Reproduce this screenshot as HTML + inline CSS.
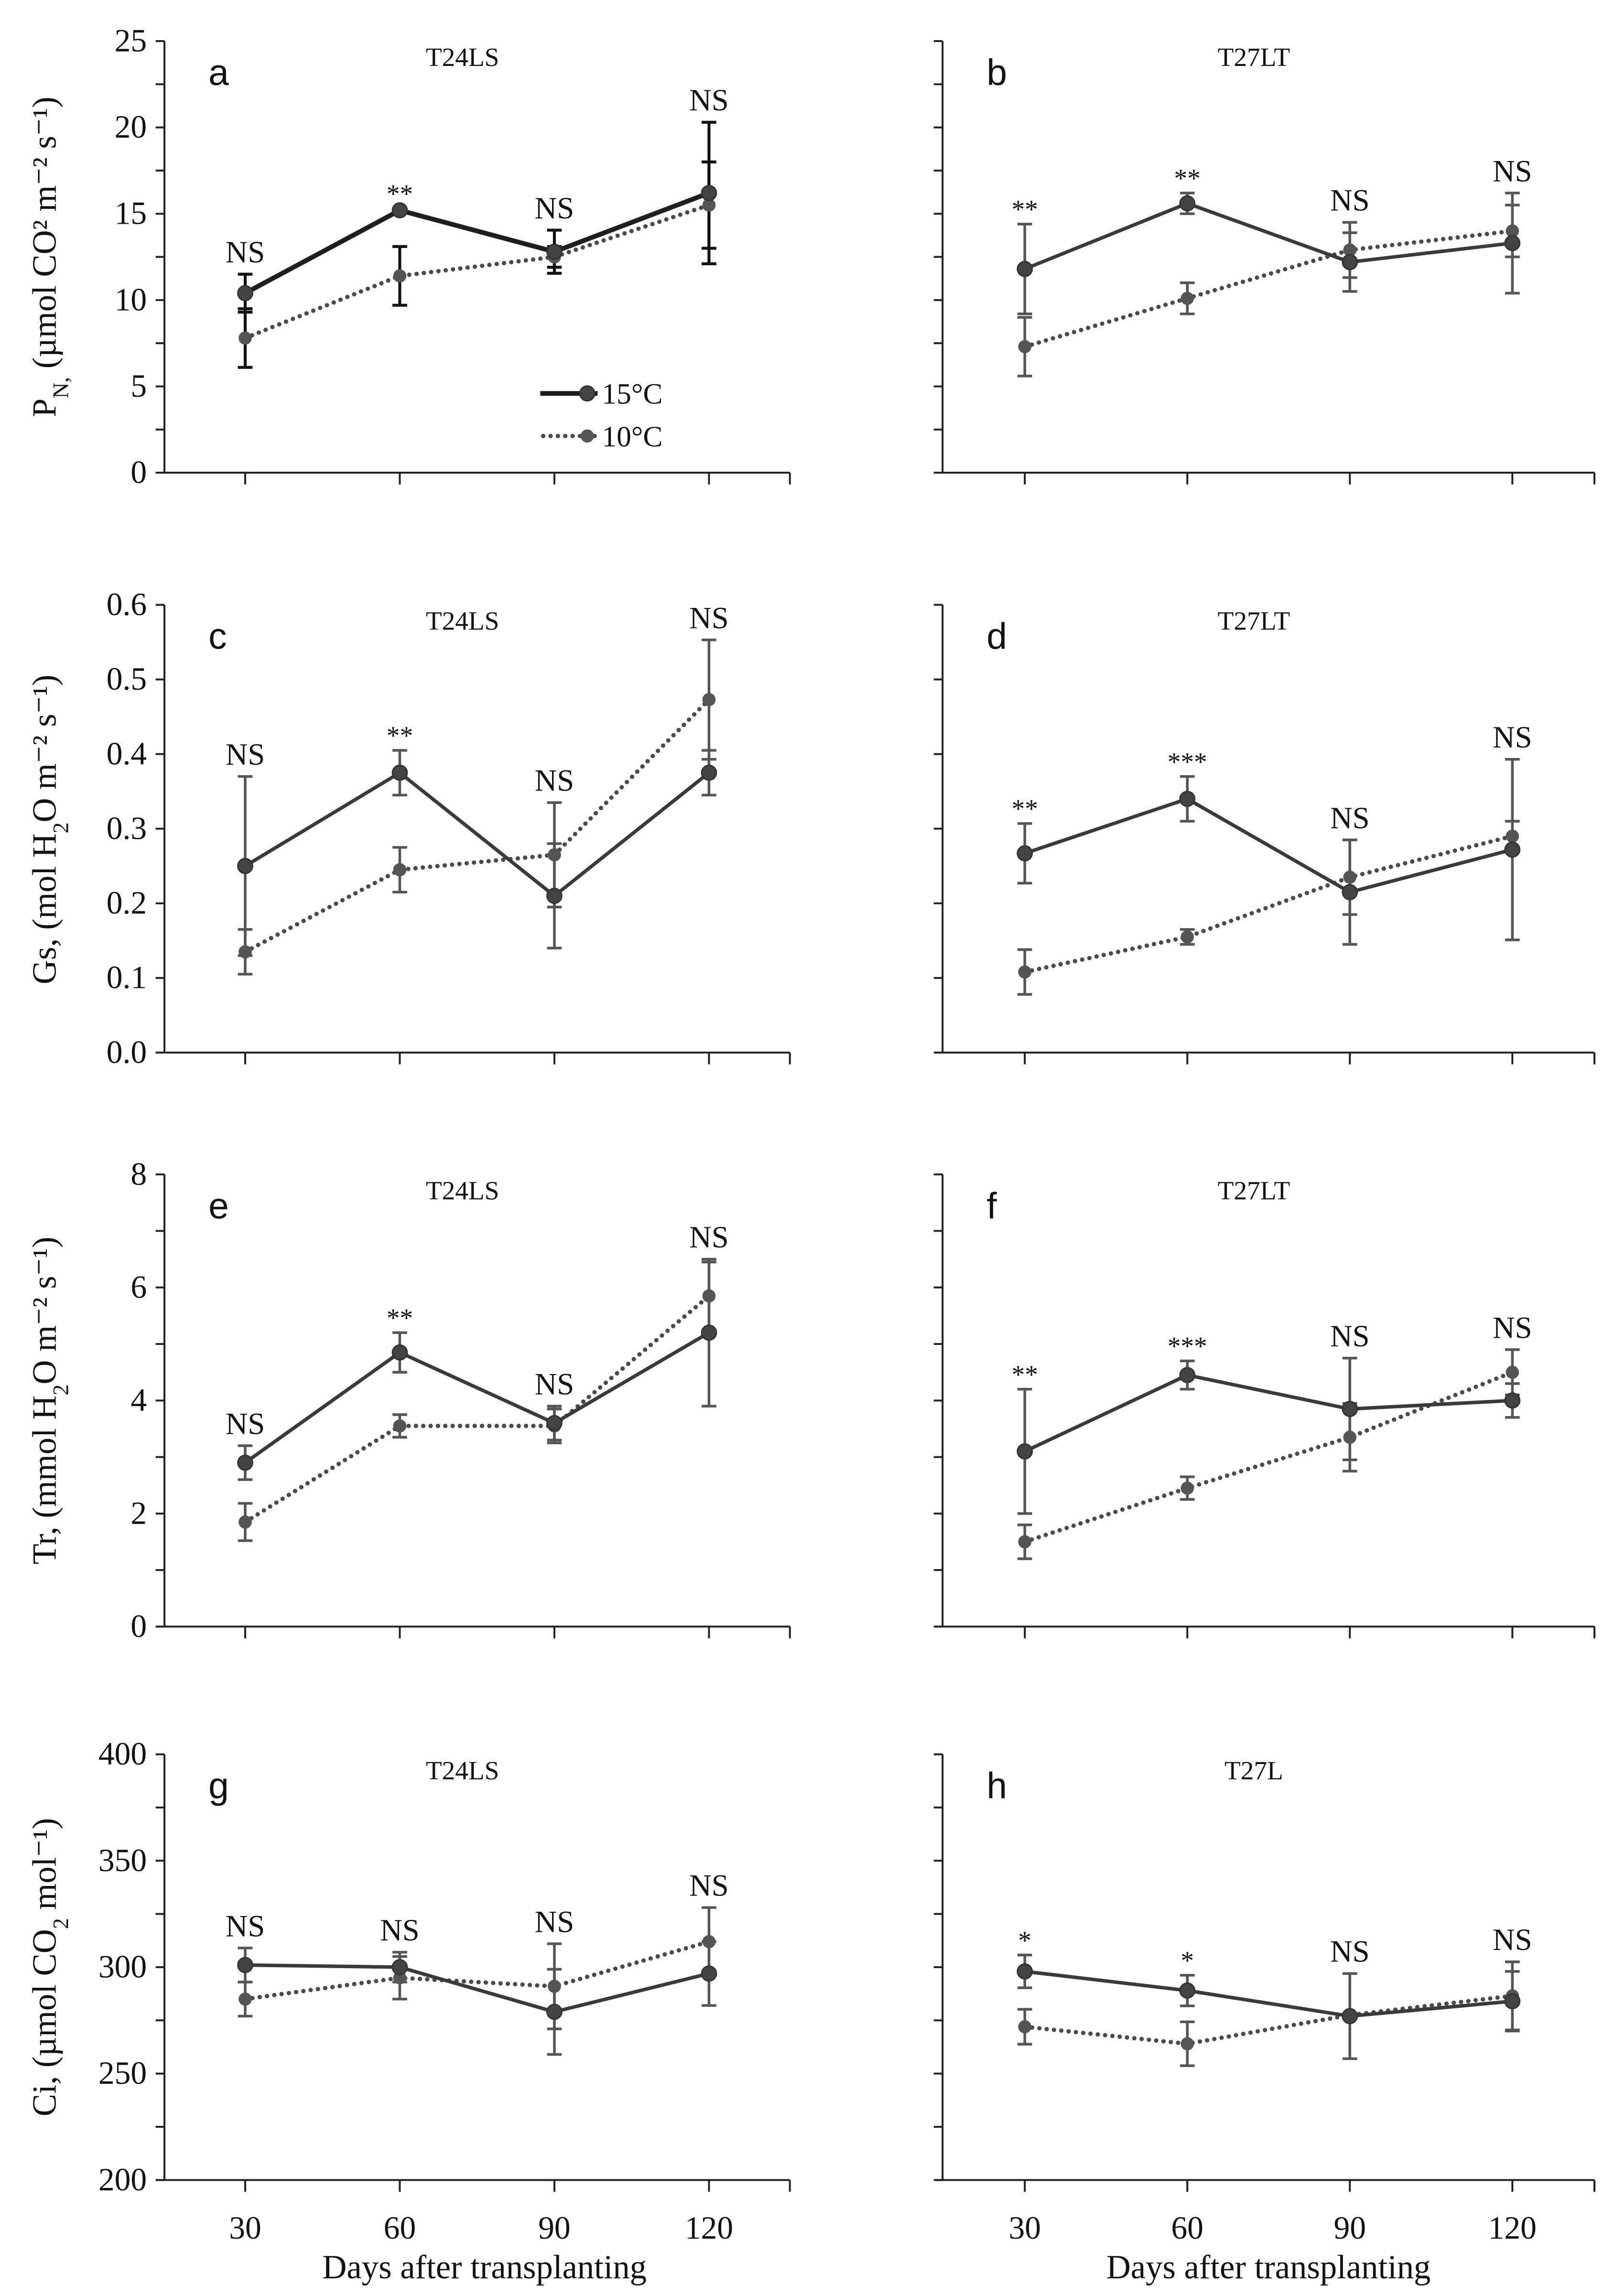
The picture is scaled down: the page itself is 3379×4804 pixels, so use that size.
<!DOCTYPE html>
<html><head><meta charset="utf-8">
<style>
html,body{margin:0;padding:0;background:#fff;}
svg{display:block;}
text{font-family:"Liberation Serif",serif;fill:#111;}
.sans{font-family:"Liberation Sans","DejaVu Sans",sans-serif;}
</style></head>
<body>
<svg id="chart" xmlns="http://www.w3.org/2000/svg" width="3379" height="4804" viewBox="0 0 1100 1564" preserveAspectRatio="none"></svg>
<script>
// ---- data ----
const days = [30, 60, 90, 120];
const dayLabels = ["30", "60", "90", "120"];
// Panel a (PN, T24LS)
const aHi = [10.4, 15.2, 12.8, 16.2];
const aHiErr = [1.1, 0.1, 1.25, 4.1];
const aLo = [7.8, 11.4, 12.5, 15.5];
const aLoErr = [1.7, 1.7, 0.6, 2.5];
const aSig = ["NS", "**", "NS", "NS"];
// Panel b (PN, T27LT)
const bHi = [11.8, 15.6, 12.2, 13.3];
const bHiErr = [2.6, 0.6, 1.7, 2.9];
const bLo = [7.3, 10.1, 12.9, 14.0];
const bLoErr = [1.7, 0.9, 1.6, 1.5];
const bSig = ["**", "**", "NS", "NS"];
// Panel c (Gs, T24LS)
const cHi = [0.25, 0.375, 0.21, 0.375];
const cHiErr = [0.12, 0.03, 0.07, 0.03];
const cLo = [0.135, 0.245, 0.265, 0.473];
const cLoErr = [0.03, 0.03, 0.07, 0.08];
const cSig = ["NS", "**", "NS", "NS"];
// Panel d (Gs, T27LT)
const dHi = [0.267, 0.34, 0.215, 0.272];
const dHiErr = [0.04, 0.03, 0.07, 0.121];
const dLo = [0.108, 0.155, 0.235, 0.29];
const dLoErr = [0.03, 0.01, 0.05, 0.02];
const dSig = ["**", "***", "NS", "NS"];
// Panel e (Tr, T24LS)
const eHi = [2.9, 4.85, 3.6, 5.2];
const eHiErr = [0.3, 0.35, 0.3, 1.3];
const eLo = [1.85, 3.55, 3.55, 5.85];
const eLoErr = [0.33, 0.2, 0.3, 0.6];
const eSig = ["NS", "**", "NS", "NS"];
// Panel f (Tr, T27LT)
const fHi = [3.1, 4.45, 3.85, 4.0];
const fHiErr = [1.1, 0.25, 0.9, 0.3];
const fLo = [1.5, 2.45, 3.35, 4.5];
const fLoErr = [0.3, 0.2, 0.6, 0.4];
const fSig = ["**", "***", "NS", "NS"];
// Panel g (Ci, T24LS)
const gHi = [301, 300, 279, 297];
const gHiErr = [8, 7, 20, 15];
const gLo = [285, 295, 291, 312];
const gLoErr = [8, 10, 20, 16];
const gSig = ["NS", "NS", "NS", "NS"];
// Panel h (Ci, T27L)
const hHi = [298, 289, 277, 284];
const hHiErr = [7.7, 7.2, 20, 14];
const hLo = [272, 264, 277.5, 286.5];
const hLoErr = [8.2, 10.3, 0, 16];
const hSig = ["*", "*", "NS", "NS"];
// axis ticks
const pnTicks = [0, 5, 10, 15, 20, 25];
const gsTicks = [0, 0.1, 0.2, 0.3, 0.4, 0.5, 0.6];
const gsTickLabels = ["0.0", "0.1", "0.2", "0.3", "0.4", "0.5", "0.6"];
const trTicks = [0, 2, 4, 6, 8];
const ciTicks = [200, 250, 300, 350, 400];

const NS = "http://www.w3.org/2000/svg";
const svg = document.getElementById('chart');
function mk(tag, attrs, parent) {
  const e = document.createElementNS(NS, tag);
  for (const k in attrs) e.setAttribute(k, attrs[k]);
  (parent || svg).appendChild(e);
  return e;
}

const cols = [
  {ax: 112, x30: 167, step: 105.3, end: 538},
  {ax: 642, x30: 698, step: 110.7, end: 1086}
];
const rows = [
  {top: 28, bot: 322, min: 0, max: 25, minor: 2.5, ticks: pnTicks, labels: null},
  {top: 412, bot: 717, min: 0, max: 0.6, minor: 0.1, ticks: gsTicks, labels: gsTickLabels},
  {top: 800, bot: 1108, min: 0, max: 8, minor: 1, ticks: trTicks, labels: null},
  {top: 1195, bot: 1485, min: 200, max: 400, minor: 25, ticks: ciTicks, labels: null}
];

function drawPanel(r, c, letter, title, hi, hiErr, lo, loErr, sig, bold) {
  const row = rows[r], col = cols[c];
  const g = mk('g', {});
  
  
  const xS = d => col.x30 + (d - 30) / 30 * col.step;
  const yS = v => row.bot - (v - row.min) / (row.max - row.min) * (row.bot - row.top);
  const ya = mk('line', {x1: col.ax, y1: row.top, x2: col.ax, y2: row.bot, stroke: '#222', 'stroke-width': 1.3}, g);
  
  
  const xa = mk('line', {x1: col.ax - 5, y1: row.bot, x2: col.end, y2: row.bot, stroke: '#222', 'stroke-width': 1.3}, g);
  
  
  mk('line', {x1: col.end, y1: row.bot, x2: col.end, y2: row.bot + 8, stroke: '#222', 'stroke-width': 1.3}, g);
  const n = Math.round((row.max - row.min) / row.minor);
  for (let i = 0; i <= n; i++) {
    const y = yS(row.min + i * row.minor);
    mk('line', {x1: col.ax - 6, y1: y, x2: col.ax, y2: y, stroke: '#222', 'stroke-width': 1.3}, g);
  }
  if (c === 0) {
    row.ticks.forEach((t, i) => {
      const tl = mk('text', {x: col.ax - 12, y: yS(t) + 7, 'text-anchor': 'end', 'font-size': 22}, g);
      tl.textContent = row.labels ? row.labels[i] : String(t);
      
      
    });
  }
  days.forEach((d, i) => {
    mk('line', {x1: xS(d), y1: row.bot, x2: xS(d), y2: row.bot + 8, stroke: '#222', 'stroke-width': 1.3}, g);
    if (r === 3) {
      const xl = mk('text', {x: xS(d), y: 1525, 'text-anchor': 'middle', 'font-size': 22}, g);
      xl.textContent = dayLabels[i];
      
      
    }
  });
  const lt = mk('text', {x: col.ax + 30, y: row.top + 30, 'font-size': 25, class: 'sans'}, g);
  lt.textContent = letter;
  
  
  const tt = mk('text', {x: (col.ax + col.end) / 2 - 10, y: row.top + 17, 'text-anchor': 'middle', 'font-size': 18}, g);
  tt.textContent = title;
  
  

  const ebColor = bold ? '#111' : '#555';
  const ebW = bold ? 2 : 1.8;
  function errs(vals, es, nm) {
    vals.forEach((v, i) => {
      const x = xS(days[i]);
      const y1 = yS(v + es[i]), y2 = yS(v - es[i]);
      if (es[i] <= 0) return;
      const eb = mk('path', {d: `M${x},${y1}V${y2}M${x-5},${y1}H${x+5}M${x-5},${y2}H${x+5}`, stroke: ebColor, 'stroke-width': ebW, fill: 'none'}, g);
      
      
    });
  }
  errs(lo, loErr, 'ten-c');
  errs(hi, hiErr, 'fifteen-c');
  const dLo = lo.map((v, i) => (i ? 'L' : 'M') + xS(days[i]) + ',' + yS(v)).join('');
  const l10 = mk('path', {d: dLo, stroke: '#4a4a4a', 'stroke-width': 3, fill: 'none', 'stroke-dasharray': '0 5', 'stroke-linecap': 'round'}, g);
  
  
  const dHi = hi.map((v, i) => (i ? 'L' : 'M') + xS(days[i]) + ',' + yS(v)).join('');
  const l15 = mk('path', {d: dHi, stroke: bold ? '#1e1e1e' : '#3a3a3a', 'stroke-width': bold ? 3.2 : 2.4, fill: 'none'}, g);
  
  
  lo.forEach((v, i) => {
    const p = mk('circle', {cx: xS(days[i]), cy: yS(v), r: 4.5, fill: '#555'}, g);
    
    
  });
  hi.forEach((v, i) => {
    const p = mk('circle', {cx: xS(days[i]), cy: yS(v), r: 5, fill: '#444', stroke: '#333', 'stroke-width': 1}, g);
    
    
  });
  sig.forEach((s, i) => {
    const top = Math.min(yS(hi[i] + hiErr[i]), yS(lo[i] + loErr[i]));
    const isStar = s.indexOf('*') >= 0;
    const st = mk('text', {x: xS(days[i]), y: top - (isStar ? 4 : 8), 'text-anchor': 'middle', 'font-size': isStar ? 18 : 21}, g);
    st.textContent = s;
    
    
  });
}

drawPanel(0, 0, 'a', 'T24LS', aHi, aHiErr, aLo, aLoErr, aSig, true);
drawPanel(0, 1, 'b', 'T27LT', bHi, bHiErr, bLo, bLoErr, bSig, false);
drawPanel(1, 0, 'c', 'T24LS', cHi, cHiErr, cLo, cLoErr, cSig, false);
drawPanel(1, 1, 'd', 'T27LT', dHi, dHiErr, dLo, dLoErr, dSig, false);
drawPanel(2, 0, 'e', 'T24LS', eHi, eHiErr, eLo, eLoErr, eSig, false);
drawPanel(2, 1, 'f', 'T27LT', fHi, fHiErr, fLo, fLoErr, fSig, false);
drawPanel(3, 0, 'g', 'T24LS', gHi, gHiErr, gLo, gLoErr, gSig, false);
drawPanel(3, 1, 'h', 'T27L', hHi, hHiErr, hLo, hLoErr, hSig, false);

const lg = mk('g', {});


mk('line', {x1: 368, y1: 268, x2: 407, y2: 268, stroke: '#1e1e1e', 'stroke-width': 3.2}, lg);
mk('circle', {cx: 400, cy: 268, r: 5, fill: '#444', stroke: '#333'}, lg);
const lt1 = mk('text', {x: 410, y: 275, 'font-size': 20}, lg);
lt1.textContent = '15°C';


mk('line', {x1: 370, y1: 297, x2: 406, y2: 297, stroke: '#4a4a4a', 'stroke-width': 3, 'stroke-dasharray': '0 5', 'stroke-linecap': 'round'}, lg);
mk('circle', {cx: 400, cy: 297, r: 4.5, fill: '#555'}, lg);
const lt2 = mk('text', {x: 410, y: 304, 'font-size': 20}, lg);
lt2.textContent = '10°C';



const yTitles = [
  {cy: 175, html: 'P<tspan baseline-shift="sub" font-size="15">N,</tspan> (µmol CO² m⁻² s⁻¹)'},
  {cy: 565, html: 'Gs, (mol H<tspan baseline-shift="sub" font-size="15">2</tspan>O m⁻² s⁻¹)'},
  {cy: 954, html: 'Tr, (mmol H<tspan baseline-shift="sub" font-size="15">2</tspan>O m⁻² s⁻¹)'},
  {cy: 1340, html: 'Ci, (µmol CO<tspan baseline-shift="sub" font-size="15">2</tspan> mol⁻¹)'}
];
yTitles.forEach(t => {
  const e = mk('text', {x: 0, y: 0, 'text-anchor': 'middle', 'font-size': 23, transform: `translate(38,${t.cy}) rotate(-90)`});
  e.innerHTML = t.html;
  
  
});
[330, 864].forEach(x => {
  const e = mk('text', {x: x, y: 1552, 'text-anchor': 'middle', 'font-size': 23});
  e.textContent = 'Days after transplanting';
  
  
});
</script>
</body></html>
